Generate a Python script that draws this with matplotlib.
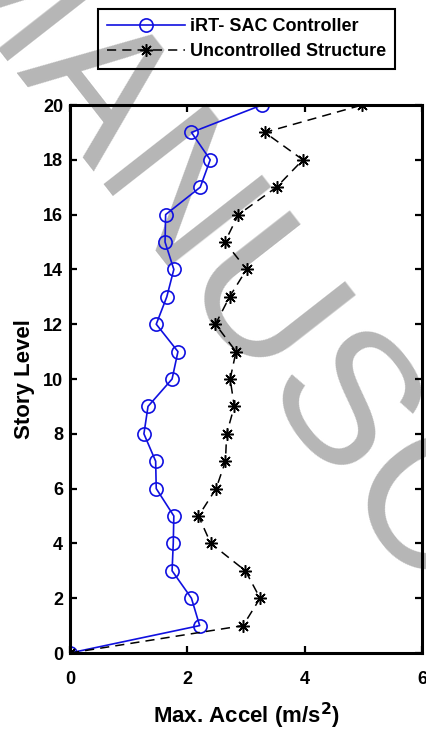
import numpy as np
import matplotlib
matplotlib.use("Agg")
import matplotlib.pyplot as plt

plt.rcParams["font.family"] = ["Liberation Sans", "DejaVu Sans"]

# peak floor accelerations per story (m/s^2)
story = np.arange(0, 21)
accel_irt_sac = [0, 2.21, 2.07, 1.74, 1.76, 1.77, 1.47, 1.46, 1.26, 1.33, 1.74,
                 1.84, 1.47, 1.65, 1.77, 1.62, 1.63, 2.22, 2.39, 2.07, 3.27]
accel_uncontrolled = [0, 2.95, 3.24, 2.99, 2.40, 2.19, 2.49, 2.65, 2.67, 2.80, 2.73,
                      2.83, 2.48, 2.72, 3.01, 2.64, 2.87, 3.52, 3.97, 3.32, 4.98]

xticks = [0, 2, 4, 6]
yticks = list(range(0, 21, 2))

W, H = 426, 734
fig = plt.figure(figsize=(W / 100, H / 100), dpi=100)
fig.patch.set_facecolor("white")

# light watermark behind everything
fig.text(297 / W, 1 - 453 / H, "MANUSCRIPT", fontsize=136, color="#b6b6b6",
         rotation=-52, rotation_mode="anchor", ha="center", va="baseline",
         family="Liberation Sans", zorder=0)

ax = fig.add_axes([70 / W, 1 - 653 / H, 352 / W, 548 / H])
ax.set_facecolor("none")
ax.set_zorder(2)

ax.plot(accel_irt_sac, story, "-", color="#1010e0", lw=1.2,
        marker="o", ms=9.5, mfc="none", mew=1.2, label="iRT- SAC Controller")
ax.plot(accel_uncontrolled, story, color="black", lw=1.1, ls=(0, (6, 4)),
        marker=(8, 2, 0), ms=9, mew=1.1, label="Uncontrolled Structure")

ax.set_xlim(0, 6)
ax.set_ylim(0, 20)
ax.set_xticks(xticks)
ax.set_yticks(yticks)
ax.tick_params(direction="in", length=5, width=1.6, top=True, right=True,
               labelsize=13)
ax.tick_params(axis="x", pad=13)
ax.tick_params(axis="y", pad=5)
for lbl in ax.get_xticklabels() + ax.get_yticklabels():
    lbl.set_fontweight("bold")
for sp in ax.spines.values():
    sp.set_linewidth(2.2)

ax.set_xlabel("Max. Accel (m/s$^\\mathbf{2}$)", fontsize=16, fontweight="bold",
              labelpad=9)
ax.set_ylabel("Story Level", fontsize=16, fontweight="bold", labelpad=6)

leg = ax.legend(loc="upper left", bbox_to_anchor=(98 / W, 1 - 9 / H),
                bbox_transform=fig.transFigure, borderaxespad=0,
                prop={"size": 13, "weight": "bold"}, handlelength=4.3,
                handletextpad=0.3, labelspacing=0.45, borderpad=0.5,
                fancybox=False, framealpha=1, facecolor="none",
                edgecolor="black")
leg.get_frame().set_linewidth(1.5)

fig.savefig("out.png", dpi=100)
